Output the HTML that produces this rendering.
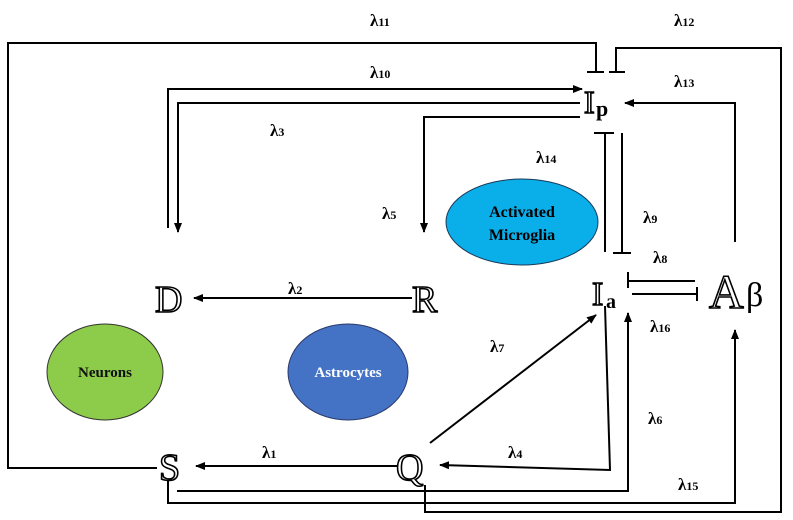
<!DOCTYPE html>
<html><head><meta charset="utf-8"><style>
html,body{margin:0;padding:0;background:#fff;}
svg{display:block;}
.l{font-family:"Liberation Serif",serif;font-weight:bold;font-size:17px;fill:#000;}
.sub{font-size:12px;}
.ds{font-family:"Liberation Serif",serif;font-size:38px;fill:#fff;stroke:#000;stroke-width:1.6px;}
.ln{stroke:#000;stroke-width:2;fill:none;}
</style></head><body>
<svg width="793" height="520" viewBox="0 0 793 520" xmlns="http://www.w3.org/2000/svg">
<defs><marker id="a" markerWidth="10" markerHeight="10" refX="9" refY="5" orient="auto" markerUnits="userSpaceOnUse"><path d="M0,1 L10,5 L0,9 z" fill="#000"/></marker></defs>
<ellipse cx="522" cy="222" rx="76" ry="43" fill="#0aaee8" stroke="#1a3a5a" stroke-width="1"/>
<ellipse cx="105" cy="372" rx="58" ry="48" fill="#8ccc4a" stroke="#333" stroke-width="1"/>
<ellipse cx="348" cy="372" rx="60" ry="48" fill="#4472c4" stroke="#2a3a6a" stroke-width="1"/>
<text x="522" y="217" text-anchor="middle" class="l" style="font-size:16px">Activated</text>
<text x="522" y="240" text-anchor="middle" class="l" style="font-size:16px">Microglia</text>
<text x="105" y="377" text-anchor="middle" class="l" style="font-size:15px;fill:#111">Neurons</text>
<text x="348" y="377" text-anchor="middle" class="l" style="font-size:15px;fill:#fff">Astrocytes</text>
<path class="ln" d="M157,468 H8 V43 H596 V71"/><path class="ln" d="M587,72 H604"/>
<path class="ln" d="M425,485 V512 H781 V48 H616 V71"/><path class="ln" d="M609,72 H625"/>
<path class="ln" d="M168,228 V89 H582" marker-end="url(#a)"/>
<path class="ln" d="M580,103 H178 V232" marker-end="url(#a)"/>
<path class="ln" d="M580,117 H424 V232" marker-end="url(#a)"/>
<path class="ln" d="M735,242 V103 H625" marker-end="url(#a)"/>
<path class="ln" d="M605,252 V133"/><path class="ln" d="M594,133 H614"/>
<path class="ln" d="M622,133 V253"/><path class="ln" d="M613,253 H631"/>
<path class="ln" d="M628,272 V288"/><path class="ln" d="M628,281 H695"/>
<path class="ln" d="M632,294 H697"/><path class="ln" d="M697,287 V301"/>
<path class="ln" d="M412,298 H194" marker-end="url(#a)"/>
<path class="ln" d="M398,466 H196" marker-end="url(#a)"/>
<path class="ln" d="M430,443 L596,315" marker-end="url(#a)"/>
<path class="ln" d="M605,306 L610,470 L440,465" marker-end="url(#a)"/>
<path class="ln" d="M177,491 H628 V313" marker-end="url(#a)"/>
<path class="ln" d="M168,480 V503 H735 V330" marker-end="url(#a)"/>
<text x="584" y="113" class="ds" style="font-size:32px">I</text><text x="596" y="116" class="l" style="font-size:22px">p</text>
<text x="592" y="305" class="ds" style="font-size:34px">I</text><text x="606" y="308" class="l" style="font-size:20px">a</text>
<text x="709" y="308" class="ds" style="font-size:48px">A</text><text x="746" y="306" style="font-family:'Liberation Serif',serif;font-size:34px">β</text>
<text x="155" y="312" class="ds">D</text>
<text x="412" y="312" class="ds">R</text>
<text x="159" y="480" class="ds">S</text>
<text x="396" y="480" class="ds">Q</text>
<text x="370" y="26" class="l">λ<tspan class="sub">11</tspan></text>
<text x="674" y="26" class="l">λ<tspan class="sub">12</tspan></text>
<text x="370" y="78" class="l">λ<tspan class="sub">10</tspan></text>
<text x="674" y="87" class="l">λ<tspan class="sub">13</tspan></text>
<text x="270" y="136" class="l">λ<tspan class="sub">3</tspan></text>
<text x="536" y="163" class="l">λ<tspan class="sub">14</tspan></text>
<text x="382" y="219" class="l">λ<tspan class="sub">5</tspan></text>
<text x="643" y="223" class="l">λ<tspan class="sub">9</tspan></text>
<text x="653" y="263" class="l">λ<tspan class="sub">8</tspan></text>
<text x="288" y="294" class="l">λ<tspan class="sub">2</tspan></text>
<text x="650" y="332" class="l">λ<tspan class="sub">16</tspan></text>
<text x="490" y="352" class="l">λ<tspan class="sub">7</tspan></text>
<text x="648" y="424" class="l">λ<tspan class="sub">6</tspan></text>
<text x="262" y="458" class="l">λ<tspan class="sub">1</tspan></text>
<text x="508" y="458" class="l">λ<tspan class="sub">4</tspan></text>
<text x="678" y="490" class="l">λ<tspan class="sub">15</tspan></text>
</svg>
</body></html>
